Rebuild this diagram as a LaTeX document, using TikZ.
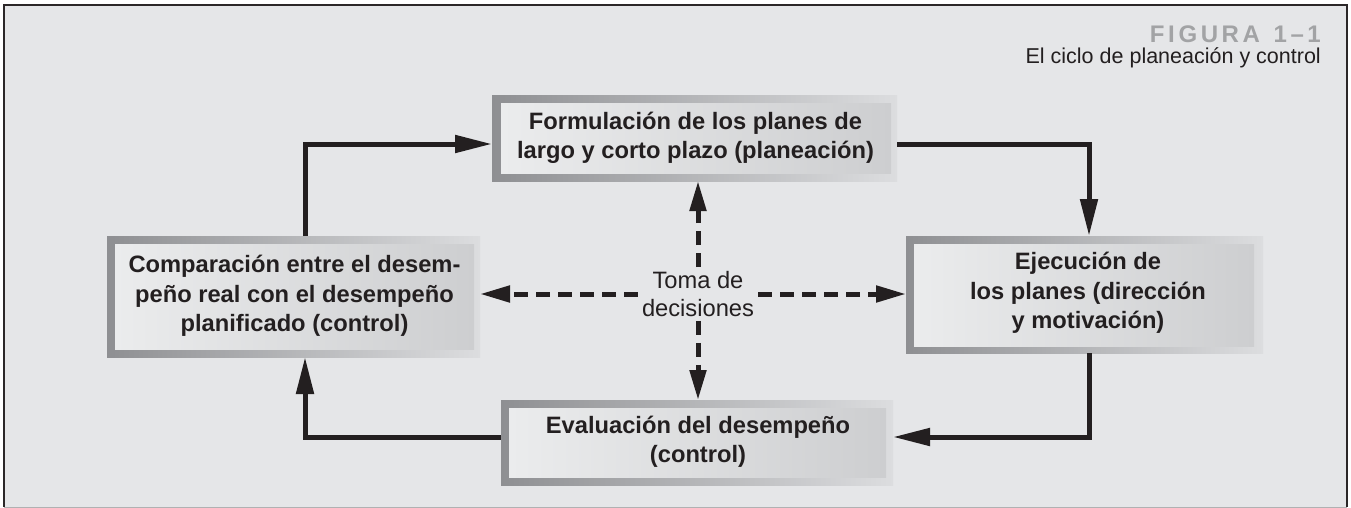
\documentclass[tikz,border=0pt]{standalone}
\usepackage{fontspec}
\setmainfont{Liberation Sans}
\usetikzlibrary{arrows.meta}
\definecolor{bg}{HTML}{E5E6E8}
\definecolor{framec}{HTML}{2B2728}
\definecolor{bordL}{HTML}{8E8F92}
\definecolor{bordR}{HTML}{DCDDDF}
\definecolor{fillL}{HTML}{EBECED}
\definecolor{fillR}{HTML}{CDCED0}
\definecolor{ink}{HTML}{231F20}
\definecolor{titlegray}{HTML}{A2A3A5}
\newcommand{\lsp}{\hspace{3.6pt}}
\begin{document}
\begin{tikzpicture}[x=1pt,y=-1pt,
  outerbox/.style={draw=none, left color=bordL, right color=bordR, inner sep=0pt, outer sep=0pt},
  innerbox/.style={draw=none, left color=fillL, right color=fillR, inner sep=0pt, outer sep=0pt,
     align=center, text=ink, font=\fontsize{23.7}{29.5}\selectfont\bfseries},
  boxtext/.style={align=center, text=ink, font=\fontsize{23.7}{29.5}\selectfont\bfseries, inner sep=0pt},
  flow/.style={draw=ink, line width=5pt, -{Triangle[length=37pt,width=17pt]}},
  decide/.style={draw=ink, line width=5pt, dash pattern=on 14pt off 8pt, -{Triangle[length=30pt,width=16pt]}}
]
\useasboundingbox (0,0) rectangle (1351,508);
% background and frame
\fill[bg] (4,5) rectangle (1347,507);
\draw[framec, line width=2.5pt] (4,507) -- (4,5) -- (1347,5) -- (1347,507);
\draw[bordR!80!black, line width=1pt] (4,507) -- (1347,507);

% title
\node[anchor=base east, inner sep=0pt, text=titlegray, font=\fontsize{24}{24}\selectfont\bfseries] (fig) at (1321,43)
  {F\lsp I\lsp G\lsp U\lsp R\lsp A\lsp\hspace{10pt}1\lsp --\lsp 1};
\node[anchor=base east, inner sep=0pt, text=ink, font=\fontsize{21.5}{24}\selectfont] (sub) at (1321,64)
  {El ciclo de planeación y control};

% boxes: outer gradient frame and inner gradient fill
\node[outerbox, minimum width=405pt, minimum height=85pt] (top) at (694.5,138.5) {};
\node[innerbox, minimum width=390pt, minimum height=69pt] (topin) at (696,138.5) {};
\node[boxtext] at (695.5,138) {Formulación de los planes de\\largo y corto plazo (planeación)};

\node[outerbox, minimum width=373pt, minimum height=121pt] (left) at (293.5,296.5) {};
\node[innerbox, minimum width=359pt, minimum height=105pt] (leftin) at (294.5,296.5) {};
\node[boxtext] at (294.5,296) {Comparación entre el desem-\\peño real con el desempeño\\planificado (control)};

\node[outerbox, minimum width=357pt, minimum height=117pt] (right) at (1084.5,294.5) {};
\node[innerbox, minimum width=340pt, minimum height=102pt] (rightin) at (1084,295) {};
\node[boxtext] at (1088,293) {Ejecución de\\los planes (dirección\\y motivación)};

\node[outerbox, minimum width=392pt, minimum height=85pt] (bottom) at (697,442.5) {};
\node[innerbox, minimum width=377pt, minimum height=69pt] (bottomin) at (697.5,442.5) {};
\node[boxtext] at (698,442) {Evaluación del desempeño\\(control)};

% decision node
\node[align=center, text=ink, font=\fontsize{23.7}{28}\selectfont, inner sep=4pt] (toma) at (698,294) {Toma de\\decisiones};
\coordinate (c) at (698,294);

% solid cycle connectors
\draw[flow] ([xshift=11.5pt]left.north) |- ([yshift=-5.5pt]top.west);
\draw[flow] ([yshift=-5.5pt]top.east) -| ([xshift=4.5pt]right.north);
\draw[flow] ([xshift=4.5pt]right.south) |- ([yshift=5.5pt]bottom.east);
\draw[flow] ([yshift=5.5pt]bottom.west) -| ([xshift=11.5pt]left.south);

% dashed decision connectors
\draw[decide] (toma.north) -- (toma.north |- top.south);
\draw[decide] (toma.south) -- (toma.south |- bottom.north);
\draw[decide] (toma.east |- c) -- (right.west |- c);
\draw[decide] (toma.west |- c) -- (left.east |- c);
\end{tikzpicture}
\end{document}
